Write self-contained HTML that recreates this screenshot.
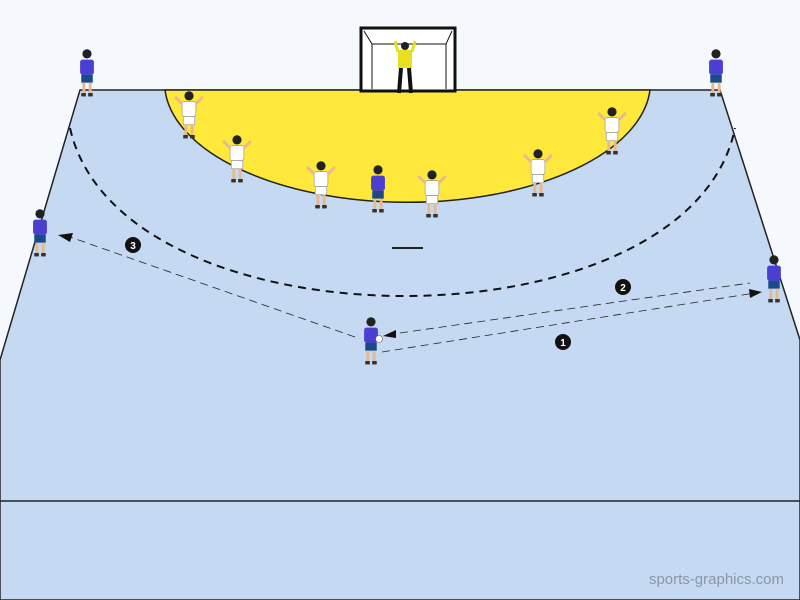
<!DOCTYPE html>
<html><head><meta charset="utf-8"><style>body{margin:0}svg{display:block}</style></head><body>
<svg width="800" height="600" viewBox="0 0 800 600" xmlns="http://www.w3.org/2000/svg">
<defs>
<g id="b0"><circle cx="0" cy="-14" r="4" fill="#222"/><rect x="-6" y="-9" width="12" height="13" rx="2" fill="#4a3fd0"/><rect x="-5" y="4" width="10" height="7" fill="#1a4a8a"/><rect x="-4" y="11" width="2.5" height="10" fill="#e8b890"/><rect x="1.5" y="11" width="2.5" height="10" fill="#e8b890"/><rect x="-5" y="20" width="4" height="3" fill="#333"/><rect x="1" y="20" width="4" height="3" fill="#333"/></g>
<g id="b"><use href="#b0" transform="scale(1.15)"/></g>
<g id="w0"><circle cx="0" cy="-14" r="4" fill="#222"/><rect x="-6" y="-9" width="12" height="13" rx="2" fill="#fff" stroke="#999" stroke-width=".6"/><path d="M-6,-7 L-12,-13 M6,-7 L12,-13" stroke="#e8b890" stroke-width="2.5"/><rect x="-5" y="4" width="10" height="7" fill="#fff" stroke="#999" stroke-width=".6"/><rect x="-4" y="11" width="2.5" height="10" fill="#e8b890"/><rect x="1.5" y="11" width="2.5" height="10" fill="#e8b890"/><rect x="-5" y="20" width="4" height="3" fill="#333"/><rect x="1" y="20" width="4" height="3" fill="#333"/></g>
<g id="w"><use href="#w0" transform="scale(1.15)"/></g>
</defs>
<rect width="800" height="600" fill="#f5f8fc"/>
<polygon points="80,90 720,90 800,340 800,600 0,600 0,360" fill="#c5daf2" stroke="#222" stroke-width="1.5"/>
<path d="M165,90 A243 120 0 0 0 650,90 Z" fill="#ffe83c" stroke="#222" stroke-width="1.5"/>
<line x1="0" y1="501" x2="800" y2="501" stroke="#222" stroke-width="1.5"/>
<path d="M70,128 C120,352 690,352 735,128" fill="none" stroke="#111" stroke-width="2" stroke-dasharray="8,6"/>
<line x1="392" y1="248" x2="423" y2="248" stroke="#222" stroke-width="2"/>
<rect x="361" y="28" width="94" height="63" fill="#fff" stroke="#111" stroke-width="3"/>
<path d="M364,31 L372,44 L446,44 L452,31 M372,44 L372,89 M446,44 L446,89" fill="none" stroke="#111" stroke-width="1"/>
<circle cx="405" cy="46" r="4" fill="#222"/><rect x="398" y="50" width="14" height="18" fill="#e6e020"/><path d="M398,52 L395,41 M412,52 L415,41" stroke="#e6e020" stroke-width="3"/><path d="M401,68 L399,93 M409,68 L411,93" stroke="#111" stroke-width="4"/>
<g stroke="#222" stroke-width="0.8" stroke-dasharray="8,5" fill="none">
<line x1="355" y1="337" x2="70" y2="237"/>
<line x1="400" y1="333" x2="750" y2="283"/>
<line x1="382" y1="352" x2="755" y2="293"/>
</g>
<polygon points="58,235 73,233 70,242" fill="#111"/>
<polygon points="383,336 396,330 396,338" fill="#111"/>
<polygon points="762,292 749,289 750,298" fill="#111"/>
<g fill="#111"><circle cx="133" cy="245" r="8"/><circle cx="623" cy="287" r="8"/><circle cx="563" cy="342" r="8"/></g>
<g fill="#fff" font-family="Liberation Sans,sans-serif" font-size="10" font-weight="bold" text-anchor="middle"><text x="133" y="249">3</text><text x="623" y="291">2</text><text x="563" y="346">1</text></g>
<use href="#b" x="87" y="70"/><use href="#b" x="716" y="70"/><use href="#b" x="40" y="230"/><use href="#b" x="774" y="276"/><use href="#b" x="371" y="338"/><use href="#b" x="378" y="186"/>
<circle cx="379" cy="339" r="3.5" fill="#fff" stroke="#555" stroke-width=".6"/>
<use href="#w" x="189" y="112"/><use href="#w" x="237" y="156"/><use href="#w" x="321" y="182"/><use href="#w" x="432" y="191"/><use href="#w" x="538" y="170"/><use href="#w" x="612" y="128"/>
<text x="784" y="584" text-anchor="end" font-family="Liberation Sans,sans-serif" font-size="15" fill="#8a96a6">sports-graphics.com</text>
</svg>
</body></html>
